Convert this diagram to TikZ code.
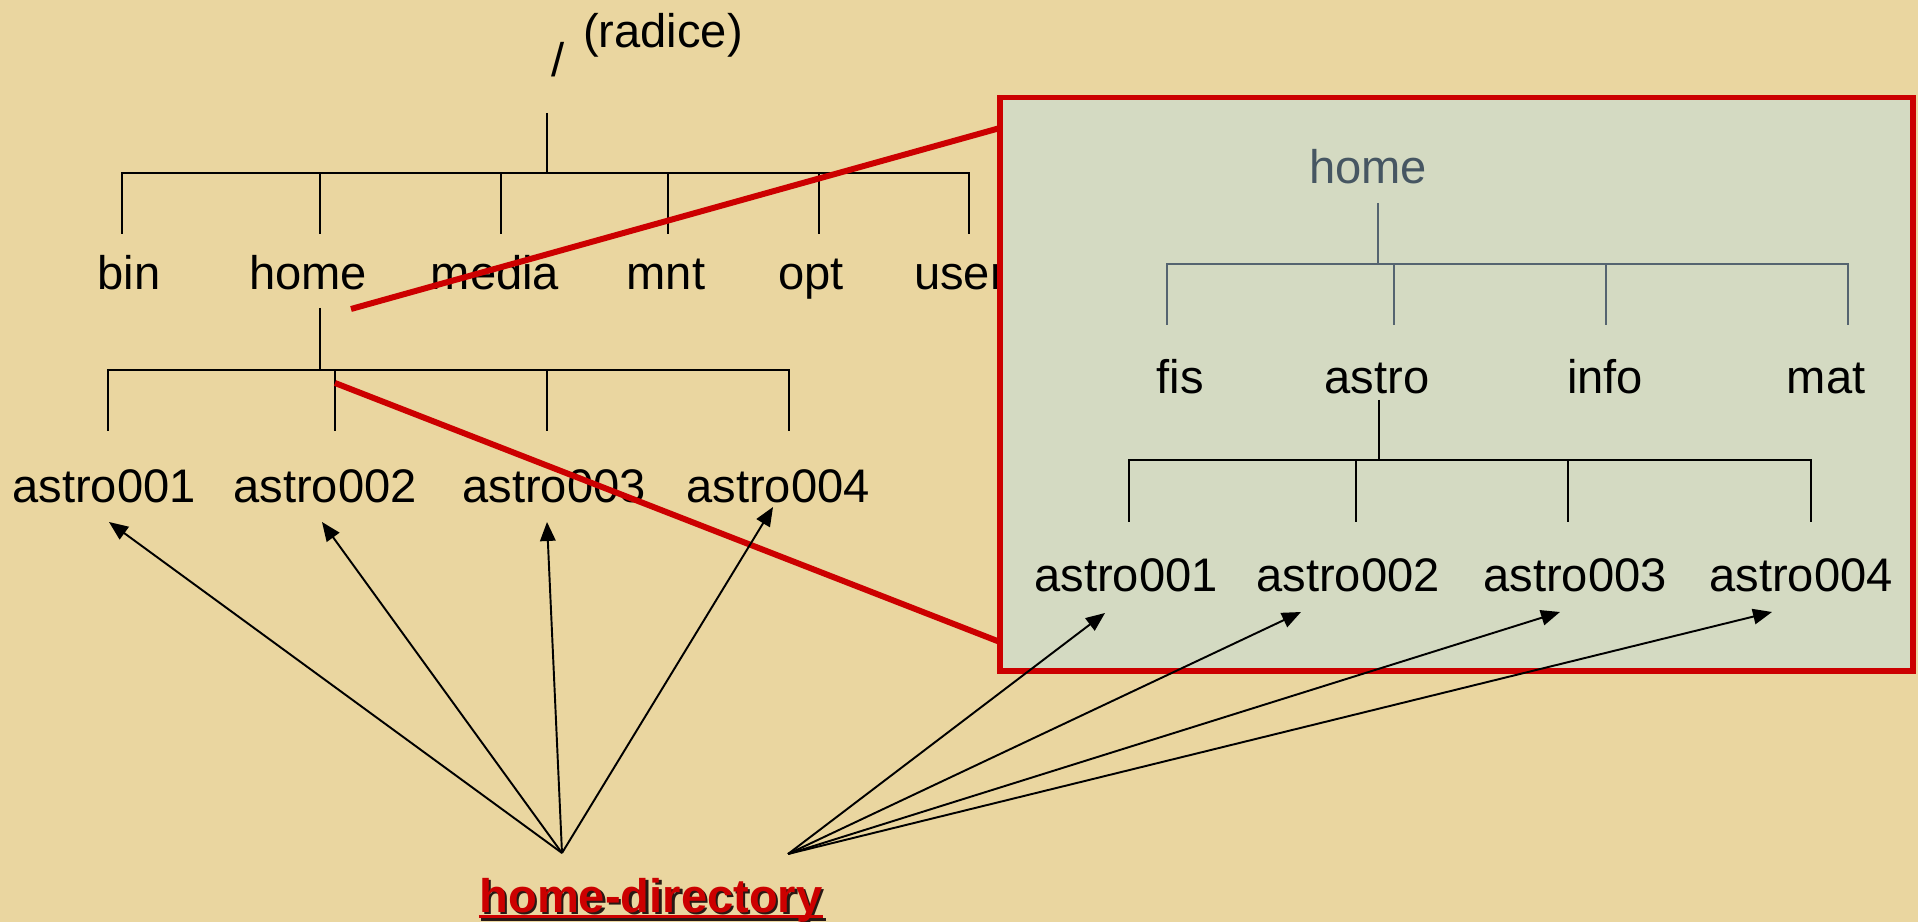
\documentclass[tikz,border=0pt]{standalone}
\usepackage{fontspec}
\setmainfont{Liberation Sans}
\usetikzlibrary{arrows.meta}
\definecolor{bgcol}{RGB}{234,214,160}
\definecolor{boxfill}{RGB}{212,218,194}
\definecolor{redcol}{RGB}{204,0,0}
\definecolor{graytree}{RGB}{85,100,112}
\definecolor{graytext}{RGB}{70,86,98}
\definecolor{shadowcol}{RGB}{40,25,20}
\begin{document}
\begin{tikzpicture}[x=0.01cm,y=-0.01cm,
  lbl/.style={anchor=base, inner sep=0pt, font=\fontsize{13.4pt}{16pt}\selectfont},
  hdstyle/.style={anchor=base, inner sep=0pt, font=\fontsize{13.4pt}{16pt}\selectfont\bfseries},
  treeline/.style={line width=0.6pt, black},
  boxtree/.style={line width=0.45pt, graytree},
  redline/.style={line width=1.7pt, redcol},
  arr/.style={line width=0.55pt, black, -{Triangle[length=5.4pt,width=4.4pt]}}]
\fill[bgcol] (0,0) rectangle (1918,922);
\useasboundingbox (0,0) rectangle (1918,922);

% ---------- left tree ----------
\node[lbl] (slash) at (558,77) {/};
\node[lbl] (radice) at (663,48) {(radice)};
\coordinate (rootTop) at (547,113);
\coordinate (rootBar) at (547,173);
\draw[treeline] (rootTop) -- (rootBar);
\draw[treeline] (122,234) |- (969,173) -- (969,234);
\foreach \x in {320,501,668,819} \draw[treeline] (\x,173) -- (\x,234);

\node[lbl] (bin) at (129,290) {bin};
\node[lbl] (home) at (308,290) {home};
\node[lbl] (media) at (495,290) {media};
\node[lbl] (mnt) at (666,290) {mnt};
\node[lbl] (opt) at (811,290) {opt};
\node[lbl] (user) at (960,290) {user};

\coordinate (homeStem) at (320,308);
\coordinate (homeBar) at (320,370);
\draw[treeline] (homeStem) -- (homeBar);
\draw[treeline] (108,431) |- (789,370) -- (789,431);
\foreach \x in {335,547} \draw[treeline] (\x,370) -- (\x,431);

\node[lbl] (a1) at (104,503) {astro001};
\node[lbl] (a2) at (325,503) {astro002};
\node[lbl] (a3) at (554,503) {astro003};
\node[lbl] (a4) at (778,503) {astro004};

% ---------- red zoom lines ----------
\coordinate (redA) at (351,309);
\coordinate (redAend) at (1000,128);
\coordinate (redB) at (335,383);
\coordinate (redBend) at (1000,642);
\draw[redline] (redA) -- (redAend);
\draw[redline] (redB) -- (redBend);

% ---------- zoom box ----------
\draw[redcol, line width=1.5pt, fill=boxfill] (1000,97.5) rectangle (1913,671);

\node[lbl, text=graytext] (bhome) at (1368,184) {home};
\draw[boxtree] (1378,203) -- (1378,264);
\draw[boxtree] (1167,325) |- (1848,264) -- (1848,325);
\foreach \x in {1394,1606} \draw[boxtree] (\x,264) -- (\x,325);

\node[lbl] (fis) at (1180,394) {fis};
\node[lbl] (bastro) at (1377,394) {astro};
\node[lbl] (info) at (1605,394) {info};
\node[lbl] (mat) at (1826,394) {mat};

\draw[treeline] (1379,400) -- (1379,460);
\draw[treeline] (1129,522) |- (1811,460) -- (1811,522);
\foreach \x in {1356,1568} \draw[treeline] (\x,460) -- (\x,522);

\node[lbl] (b1) at (1126,592) {astro001};
\node[lbl] (b2) at (1348,592) {astro002};
\node[lbl] (b3) at (1575,592) {astro003};
\node[lbl] (b4) at (1801,592) {astro004};

% ---------- arrows ----------
\coordinate (hdL) at (562,853);
\coordinate (hdR) at (788,854);
\coordinate (tL1) at (109,522);
\coordinate (tL2) at (322,522);
\coordinate (tL3) at (547,522);
\coordinate (tL4) at (773,507);
\coordinate (tR1) at (1105,613);
\coordinate (tR2) at (1301,612);
\coordinate (tR3) at (1560,612);
\coordinate (tR4) at (1772,612);
\foreach \t in {tL1,tL2,tL3,tL4} \draw[arr] (hdL) -- (\t);
\foreach \t in {tR1,tR2,tR3,tR4} \draw[arr] (hdR) -- (\t);

% ---------- home-directory label ----------
\node[hdstyle, text=shadowcol] (hdS) at (653.5,914.5) {home-directory};
\draw[shadowcol, line width=0.85pt] ([yshift=-1.3pt]hdS.base west) -- ([yshift=-1.3pt]hdS.base east);
\node[hdstyle, text=redcol] (hd) at (651,912) {home-directory};
\draw[redcol, line width=0.85pt] ([yshift=-1.3pt]hd.base west) -- ([yshift=-1.3pt]hd.base east);
\end{tikzpicture}
\end{document}
